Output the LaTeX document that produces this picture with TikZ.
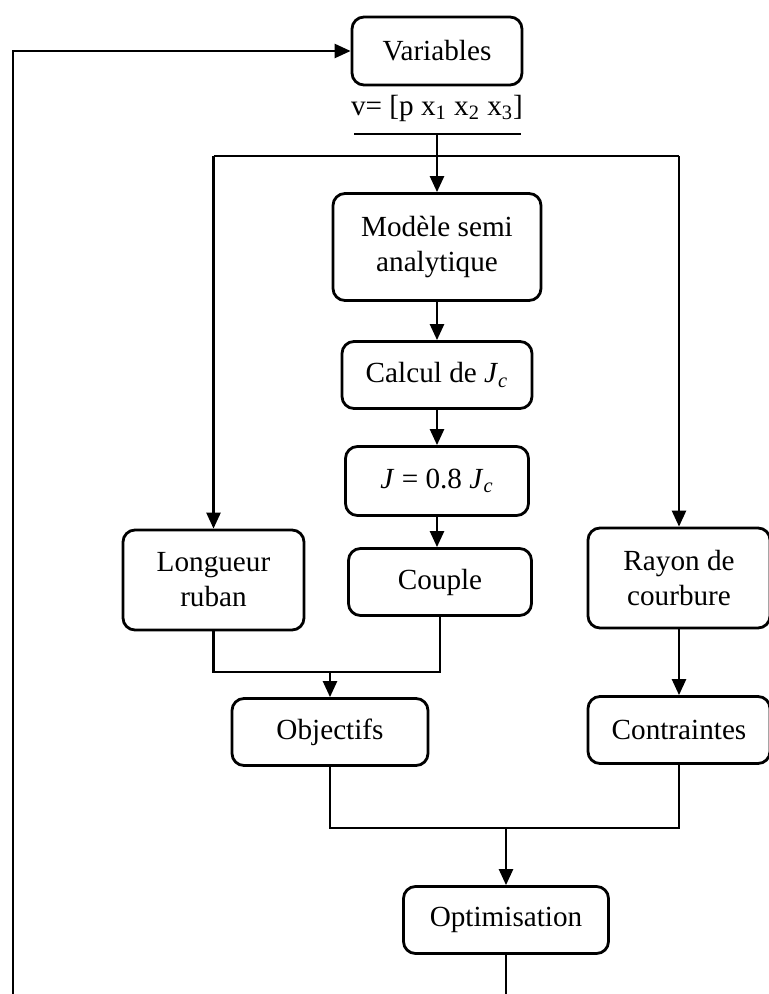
\documentclass[tikz,border=0pt]{standalone}
\usepackage{fontspec}
\setmainfont{Liberation Serif}
\usetikzlibrary{calc, positioning, arrows.meta}

\begin{document}
\begin{tikzpicture}[x=0.5pt, y=-0.5pt,
  bloc/.style={draw, line width=1.4pt, rounded corners=6pt, align=center, inner sep=0pt,
    font=\fontsize{14.6}{17.5}\selectfont},
  ligne/.style={line width=1.25pt},
  fleche/.style={ligne, -{Triangle[length=8pt, width=7pt]}}]
\useasboundingbox (0,0) rectangle (768,994);

% Boxes
\node[bloc, minimum width=85pt, minimum height=34pt] (var) at (437,51) {Variables};
\node[font=\fontsize{14.6}{17.5}\selectfont] (lbl) at (437,108)
  {v= [p x\textsubscript{1} x\textsubscript{2} x\textsubscript{3}]};
\node[bloc, minimum width=104pt, minimum height=53.5pt] (mod) at (437,247) {Modèle semi\\analytique};
\node[bloc, minimum width=95pt, minimum height=33.5pt] (calc) at (437,375)
  {Calcul de \textit{J}\textsubscript{\textit{c}}};
\node[bloc, minimum width=91.5pt, minimum height=34.5pt] (jval) at (437,481)
  {\textit{J} = 0.8 \textit{J}\textsubscript{\textit{c}}};
\node[bloc, minimum width=91.5pt, minimum height=33.5pt] (couple) at (440,582) {Couple};
\node[bloc, minimum width=90.5pt, minimum height=50pt] (long) at (213.5,580) {Longueur\\ruban};
\node[bloc, minimum width=91pt, minimum height=50pt] (rayon) at (679,578) {Rayon de\\courbure};
\node[bloc, minimum width=98pt, minimum height=33.5pt] (obj) at (330,732) {Objectifs};
\node[bloc, minimum width=91pt, minimum height=33.5pt] (cont) at (679,730) {Contraintes};
\node[bloc, minimum width=102.5pt, minimum height=33.5pt] (opt) at (506,920) {Optimisation};

% Junction points
\coordinate (barL) at (354,134);
\coordinate (barR) at (521,134);
\coordinate (barC) at (437,134);
\coordinate (branche) at (437,156);
\coordinate (jonc1) at (330,672);
\coordinate (jonc2) at (506,828);
\coordinate (retour) at (13,994);
\coordinate (bas) at (506,994);

% Connectors
\draw[fleche] (retour) |- (var.west);
\draw[ligne] (barL) -- (barR);
\draw[fleche] (barC) -- (mod.north);
\draw[ligne] (long.north |- branche) -- (rayon.north |- branche);
\draw[fleche] (long.north |- branche) -- (long.north);
\draw[fleche] (rayon.north |- branche) -- (rayon.north);
\draw[fleche] (mod) -- (calc);
\draw[fleche] (calc) -- (jval);
\draw[fleche] (jval.south) -- (jval.south |- couple.north);
\draw[ligne] (long.south) |- (jonc1) -| (couple.south);
\draw[fleche] (jonc1) -- (obj.north);
\draw[fleche] (rayon) -- (cont);
\draw[ligne] (obj.south) |- (jonc2) -| (cont.south);
\draw[fleche] (jonc2) -- (opt.north);
\draw[ligne] (opt.south) -- (bas);
\end{tikzpicture}
\end{document}
